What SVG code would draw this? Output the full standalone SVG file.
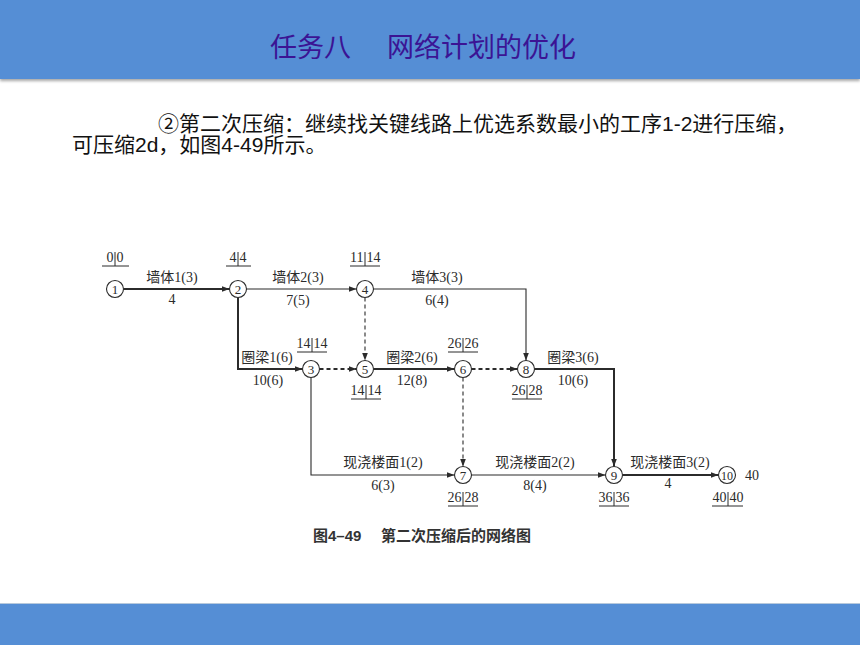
<svg xmlns="http://www.w3.org/2000/svg" width="860" height="645" viewBox="0 0 860 645">
<defs>
<marker id="ah" markerUnits="userSpaceOnUse" markerWidth="9" markerHeight="7" refX="8" refY="3" orient="auto">
<path d="M0,0 L8,3 L0,6 z" fill="#2b2b2b"/>
</marker>
<filter id="sh" x="-5%" y="-20%" width="110%" height="150%">
<feDropShadow dx="0" dy="2" stdDeviation="1.5" flood-color="#000" flood-opacity="0.35"/>
</filter>
</defs>
<style>
.band{fill:#558ed5}
.title{font-family:"Noto Sans CJK SC","Liberation Sans",sans-serif;font-size:27px;fill:#3b1494}
.body{font-family:"Liberation Sans","Noto Sans CJK SC",sans-serif;font-size:21px;fill:#111}
.lbl{font-family:"Liberation Serif","Noto Sans CJK SC",serif;font-size:14px;fill:#2b2b2b;text-anchor:middle}
.num{font-family:"Liberation Serif","Noto Sans CJK SC",serif;font-size:14px;fill:#2b2b2b}
.ln{text-anchor:end}
.rn{text-anchor:start}
.nd circle{fill:#fff;stroke:#2b2b2b;stroke-width:1.1}
.nt{font-family:"Liberation Serif",serif;font-size:13px;fill:#2b2b2b;text-anchor:middle}
.e{fill:none;stroke:#2b2b2b;marker-end:url(#ah)}
.thin{stroke-width:1.1}
.thick{stroke-width:2}
.dash{stroke-dasharray:4,3}
.ul{stroke:#2b2b2b;stroke-width:1}
.cap{font-family:"Liberation Sans","Noto Sans CJK SC",sans-serif;font-size:15px;font-weight:bold;fill:#333}
</style>
<rect width="860" height="645" fill="#fff"/>
<rect class="band" x="0" y="0" width="860" height="79" filter="url(#sh)"/>
<text class="title" x="270" y="57">任务八</text>
<text class="title" x="387" y="57">网络计划的优化</text>
<text class="body" x="158" y="131">②第二次压缩：继续找关键线路上优选系数最小的工序1-2进行压缩，</text>
<text class="body" x="72" y="152">可压缩2d，如图4-49所示。</text>
<rect x="0" y="603" width="860" height="42" class="band"/>
<line x1="0" y1="603.5" x2="860" y2="603.5" stroke="#b7c9dc" stroke-width="1"/>

<g id="connectors">
<path class="e thick" d="M123.5,289 H229.5"/>
<path class="e thin" d="M246.5,289 H356.5"/>
<path class="e thin" d="M373.5,289 H526 V360.5"/>
<path class="e thick" d="M238,297.5 V369 H302.5"/>
<path class="e thick dash" d="M319.5,369 H356.5"/>
<path class="e thin dash" d="M365,297.5 V360.5"/>
<path class="e thick" d="M373.5,369 H454.5"/>
<path class="e thick dash" d="M471.5,369 H517.5"/>
<path class="e thin dash" d="M463,377.5 V466.5"/>
<path class="e thick" d="M534.5,369 H614 V466.5"/>
<path class="e thin" d="M311,377.5 V475 H454.5"/>
<path class="e thin" d="M471.5,475 H605.5"/>
<path class="e thick" d="M622.5,475 H718.5"/>
<text class="lbl" x="172" y="282">墙体1(3)</text>
<text class="lbl" x="172" y="304">4</text>
<text class="lbl" x="298" y="282">墙体2(3)</text>
<text class="lbl" x="298" y="305">7(5)</text>
<text class="lbl" x="437" y="282">墙体3(3)</text>
<text class="lbl" x="437" y="305">6(4)</text>
<text class="lbl" x="267" y="362">圈梁1(6)</text>
<text class="lbl" x="268" y="385">10(6)</text>
<text class="lbl" x="412" y="362">圈梁2(6)</text>
<text class="lbl" x="412" y="385">12(8)</text>
<text class="lbl" x="573" y="362">圈梁3(6)</text>
<text class="lbl" x="573" y="385">10(6)</text>
<text class="lbl" x="383" y="467">现浇楼面1(2)</text>
<text class="lbl" x="383" y="490">6(3)</text>
<text class="lbl" x="535" y="467">现浇楼面2(2)</text>
<text class="lbl" x="535" y="490">8(4)</text>
<text class="lbl" x="670" y="467">现浇楼面3(2)</text>
<text class="lbl" x="668" y="488">4</text>
</g>

<g id="node1" class="nd"><circle cx="115" cy="289" r="8.5"/><text class="nt" x="115" y="293.5">1</text>
<text class="num ln" x="113.5" y="262">0</text><text class="num rn" x="116.5" y="262">0</text>
<line class="ul" x1="102" y1="266" x2="129" y2="266"/><line class="ul" x1="115" y1="252" x2="115" y2="266"/></g>

<g id="node2" class="nd"><circle cx="238" cy="289" r="8.5"/><text class="nt" x="238" y="293.5">2</text>
<text class="num ln" x="236.5" y="262">4</text><text class="num rn" x="239.5" y="262">4</text>
<line class="ul" x1="226" y1="266" x2="251" y2="266"/><line class="ul" x1="238" y1="252" x2="238" y2="266"/></g>

<g id="node4" class="nd"><circle cx="365" cy="289" r="8.5"/><text class="nt" x="365" y="293.5">4</text>
<text class="num ln" x="363.5" y="262">11</text><text class="num rn" x="366.5" y="262">14</text>
<line class="ul" x1="350" y1="266" x2="380" y2="266"/><line class="ul" x1="365" y1="252" x2="365" y2="266"/></g>

<g id="node3" class="nd"><circle cx="311" cy="369" r="8.5"/><text class="nt" x="311" y="373.5">3</text>
<text class="num ln" x="310.5" y="348">14</text><text class="num rn" x="313.5" y="348">14</text>
<line class="ul" x1="297" y1="352" x2="327" y2="352"/><line class="ul" x1="312" y1="338" x2="312" y2="352"/></g>

<g id="node5" class="nd"><circle cx="365" cy="369" r="8.5"/><text class="nt" x="365" y="373.5">5</text>
<text class="num ln" x="364.5" y="395">14</text><text class="num rn" x="367.5" y="395">14</text>
<line class="ul" x1="351" y1="399" x2="381" y2="399"/><line class="ul" x1="366" y1="385" x2="366" y2="399"/></g>

<g id="node6" class="nd"><circle cx="463" cy="369" r="8.5"/><text class="nt" x="463" y="373.5">6</text>
<text class="num ln" x="461.5" y="348">26</text><text class="num rn" x="464.5" y="348">26</text>
<line class="ul" x1="448" y1="352" x2="478" y2="352"/><line class="ul" x1="463" y1="338" x2="463" y2="352"/></g>

<g id="node8" class="nd"><circle cx="526" cy="369" r="8.5"/><text class="nt" x="526" y="373.5">8</text>
<text class="num ln" x="525.5" y="395">26</text><text class="num rn" x="528.5" y="395">28</text>
<line class="ul" x1="512" y1="399" x2="542" y2="399"/><line class="ul" x1="527" y1="385" x2="527" y2="399"/></g>

<g id="node7" class="nd"><circle cx="463" cy="475" r="8.5"/><text class="nt" x="463" y="479.5">7</text>
<text class="num ln" x="461.5" y="502">26</text><text class="num rn" x="464.5" y="502">28</text>
<line class="ul" x1="448" y1="506" x2="478" y2="506"/><line class="ul" x1="463" y1="492" x2="463" y2="506"/></g>

<g id="node9" class="nd"><circle cx="614" cy="475" r="8.5"/><text class="nt" x="614" y="479.5">9</text>
<text class="num ln" x="612.5" y="502">36</text><text class="num rn" x="615.5" y="502">36</text>
<line class="ul" x1="599" y1="506" x2="629" y2="506"/><line class="ul" x1="614" y1="492" x2="614" y2="506"/></g>

<g id="node10" class="nd"><circle cx="727" cy="475" r="8.5"/><text class="nt" x="727" y="479.5" style="font-size:12px">10</text>
<text class="num ln" x="726.5" y="502">40</text><text class="num rn" x="729.5" y="502">40</text>
<line class="ul" x1="712" y1="506" x2="743" y2="506"/><line class="ul" x1="728" y1="492" x2="728" y2="506"/>
<text class="num rn" x="745" y="480">40</text></g>

<text class="cap" x="313" y="541">图4–49<tspan x="381">第二次压缩后的网络图</tspan></text>
</svg>
